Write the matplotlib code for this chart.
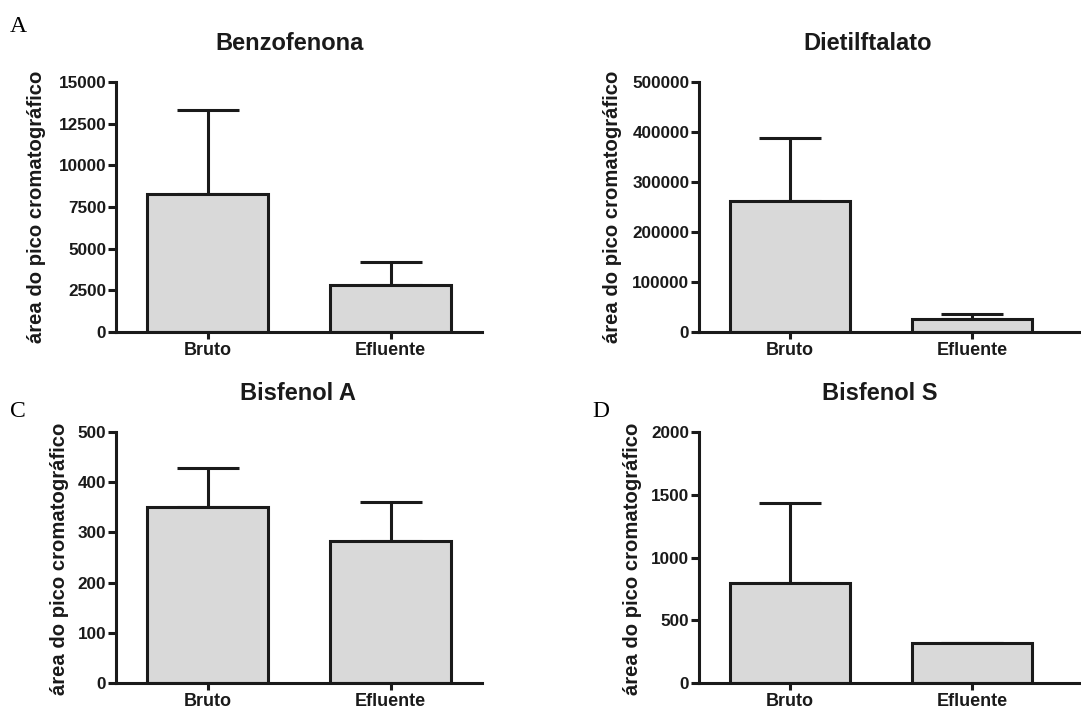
import matplotlib
matplotlib.use("Agg")
import matplotlib.pyplot as plt
import numpy as np

plt.rcParams['font.family'] = ['Liberation Sans', 'DejaVu Sans']

groups = ["Bruto", "Efluente"]
titles = ["Benzofenona", "Dietilftalato", "Bisfenol A", "Bisfenol S"]
letters = ["A", "", "C", "D"]
ylabel = "área do pico cromatográfico"

benzo_mean = [8280, 2820]
benzo_err = [5040, 1380]
dietil_mean = [262000, 26000]
dietil_err = [126000, 11000]
bpa_mean = [350, 283]
bpa_err = [78, 77]
bps_mean = [797, 319]
bps_err = [637, 0]

ymax = [15000, 500000, 500, 2000]
ystep = [2500, 100000, 100, 500]

means = [benzo_mean, dietil_mean, bpa_mean, bps_mean]
errs = [benzo_err, dietil_err, bpa_err, bps_err]

W, H = 1081, 711
fig = plt.figure(figsize=(W / 100, H / 100), dpi=100)

# axes boxes in pixels: left, right, top, bottom
boxes = [(116, 482, 82, 332), (699, 1081, 82, 332),
         (116, 482, 432, 683), (699, 1081, 432, 683)]
xlims = [(-0.5, 1.5), (-0.5, 1.6), (-0.5, 1.5), (-0.5, 1.6)]
ylabel_pos = [(37, 207), (613, 207), (60, 559), (633, 559)]
title_pos = [(290, 43), (868, 43), (298, 393), (880, 393)]
letter_pos = [(10, 32), None, (10, 417), (592, 417)]

lw = 2.2
dark = "#1a1a1a"

for i in range(4):
    l, r, t, b = boxes[i]
    ax = fig.add_axes([l / W, 1 - b / H, (r - l) / W, (b - t) / H])
    x = np.arange(len(groups))
    ax.bar(x, means[i], width=0.66, color="#d9d9d9", edgecolor=dark, linewidth=lw, zorder=2)
    yerr = [[0, 0], errs[i]]
    ax.errorbar(x, means[i], yerr=yerr, fmt="none", ecolor=dark, elinewidth=lw,
                capsize=22, capthick=lw, zorder=1)
    ax.set_xlim(*xlims[i])
    ax.set_ylim(0, ymax[i])
    ax.set_yticks(np.arange(0, ymax[i] + 1, ystep[i]))
    ax.set_xticks(x)
    ax.set_xticklabels(groups, fontweight="bold", fontsize=13)
    for lab in ax.get_yticklabels():
        lab.set_fontweight("bold")
        lab.set_fontsize(12.3)
    ax.spines["top"].set_visible(False)
    ax.spines["right"].set_visible(False)
    for side in ["left", "bottom"]:
        ax.spines[side].set_linewidth(lw)
        ax.spines[side].set_color(dark)
    ax.tick_params(axis="y", length=6, width=lw, color=dark, labelcolor=dark, pad=1)
    ax.tick_params(axis="x", length=5, width=lw, color=dark, labelcolor=dark, pad=2)
    fig.text(title_pos[i][0] / W, 1 - title_pos[i][1] / H, titles[i], fontweight="bold",
             fontsize=17, color=dark, ha="center", va="center")
    fig.text(ylabel_pos[i][0] / W, 1 - ylabel_pos[i][1] / H, ylabel, rotation=90,
             fontweight="bold", fontsize=14.6, color=dark, ha="center", va="center")
    if letter_pos[i] is not None:
        fig.text(letter_pos[i][0] / W, 1 - letter_pos[i][1] / H, letters[i],
                 family="Liberation Serif", fontsize=17, ha="left", va="baseline")

fig.savefig("out.png", dpi=100, facecolor="white")
